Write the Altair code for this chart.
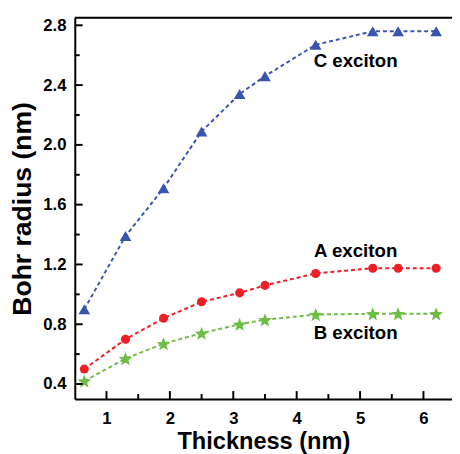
import math
import altair as alt
import pandas as pd

thickness = [0.65, 1.3, 1.9, 2.5, 3.1, 3.5, 4.3, 5.2, 5.6, 6.2]
c_exciton = [0.90, 1.39, 1.71, 2.09, 2.34, 2.46, 2.67, 2.76, 2.76, 2.76]
a_exciton = [0.50, 0.70, 0.84, 0.95, 1.01, 1.06, 1.14, 1.175, 1.175, 1.175]
b_exciton = [0.42, 0.57, 0.67, 0.74, 0.80, 0.83, 0.865, 0.87, 0.87, 0.87]

label_text = ["C exciton", "A exciton", "B exciton"]
label_x = [4.93, 4.93, 4.93]
label_y = [2.56, 1.29, 0.74]

x_major = [1, 2, 3, 4, 5, 6]
x_minor = [1.5, 2.5, 3.5, 4.5, 5.5]
y_major = [0.4, 0.8, 1.2, 1.6, 2.0, 2.4, 2.8]
y_minor = [0.6, 1.0, 1.4, 1.8, 2.2, 2.6]

W, H = 384, 388
FONT = "Liberation Sans"

series = ["C", "A", "B"]
colors = ["#3a55b0", "#ee1f25", "#6cbd45"]

# 5-pointed star symbol path (unit size)
pts = []
for k in range(10):
    ang = -math.pi / 2 + k * math.pi / 5
    rad = 1.0 if k % 2 == 0 else 0.42
    pts.append(f"{rad * math.cos(ang):.3f},{rad * math.sin(ang) + 0.1:.3f}")
star_path = "M" + "L".join(pts) + "Z"
shapes = ["triangle-up", "circle", star_path]
sizes = [140, 85, 220]

rows = []
for name, vals in zip(series, [c_exciton, a_exciton, b_exciton]):
    for x, y in zip(thickness, vals):
        rows.append({"t": x, "r": y, "s": name})
df = pd.DataFrame(rows)

xs = alt.Scale(domain=[0.5, 6.45], nice=False, zero=False)
ys = alt.Scale(domain=[0.3, 2.85], nice=False, zero=False)
cs = alt.Scale(domain=series, range=colors)

x_axis = alt.Axis(values=x_major, format="d", title="Thickness (nm)", grid=False, ticks=False,
                  labelPadding=12, titlePadding=3, titleFontSize=24)
y_axis = alt.Axis(values=y_major, format=".1f", title="Bohr radius (nm)", grid=False, ticks=False,
                  labelPadding=9, titlePadding=6, titleFontSize=27)


def X():
    return alt.X("t:Q", scale=xs, axis=x_axis)


def Y():
    return alt.Y("r:Q", scale=ys, axis=y_axis)


lines = alt.Chart(df).mark_line(strokeWidth=2, strokeDash=[4, 3]).encode(
    x=X(), y=Y(),
    color=alt.Color("s:N", scale=cs, legend=None),
    detail="s:N",
)

point_layers = []
for name, shp, sz in zip(series, shapes, sizes):
    point_layers.append(
        alt.Chart(df[df.s == name]).mark_point(shape=shp, size=sz, filled=True, opacity=1, strokeWidth=0).encode(
            x=X(), y=Y(),
            color=alt.Color("s:N", scale=cs, legend=None),
        )
    )

lab_df = pd.DataFrame({"t": label_x, "r": label_y, "text": label_text})
labels = alt.Chart(lab_df).mark_text(font=FONT, fontSize=19, fontWeight="bold", color="black",
                                     align="center", baseline="middle").encode(
    x=X(), y=Y(), text="text:N")

xt_major = alt.Chart(pd.DataFrame({"t": x_major})).mark_rule(color="black", strokeWidth=2).encode(
    x=X(), y=alt.value(H), y2=alt.value(H - 8))
xt_minor = alt.Chart(pd.DataFrame({"t": x_minor})).mark_rule(color="black", strokeWidth=2).encode(
    x=X(), y=alt.value(H), y2=alt.value(H - 5))
yt_major = alt.Chart(pd.DataFrame({"r": y_major})).mark_rule(color="black", strokeWidth=2).encode(
    y=Y(), x=alt.value(0), x2=alt.value(8))
yt_minor = alt.Chart(pd.DataFrame({"r": y_minor})).mark_rule(color="black", strokeWidth=2).encode(
    y=Y(), x=alt.value(0), x2=alt.value(5))
top = alt.Chart(pd.DataFrame({"v": [0]})).mark_rule(color="black", strokeWidth=2).encode(
    x=alt.value(0), x2=alt.value(W), y=alt.value(0))

chart = alt.layer(lines, *point_layers, labels, xt_major, xt_minor, yt_major, yt_minor, top).properties(
    width=W, height=H,
    autosize=alt.AutoSizeParams(type="none"),
    padding={"left": 68, "top": 6, "right": 0, "bottom": 52},
).configure_view(stroke=None).configure(background="white").configure_axis(
    domainColor="black", domainWidth=2, labelFont=FONT, labelFontSize=17, labelFontWeight="bold",
    labelColor="black", titleFont=FONT, titleFontWeight="bold", titleColor="black",
)

chart.save("out.html", embed_options={"renderer": "svg", "actions": False})
